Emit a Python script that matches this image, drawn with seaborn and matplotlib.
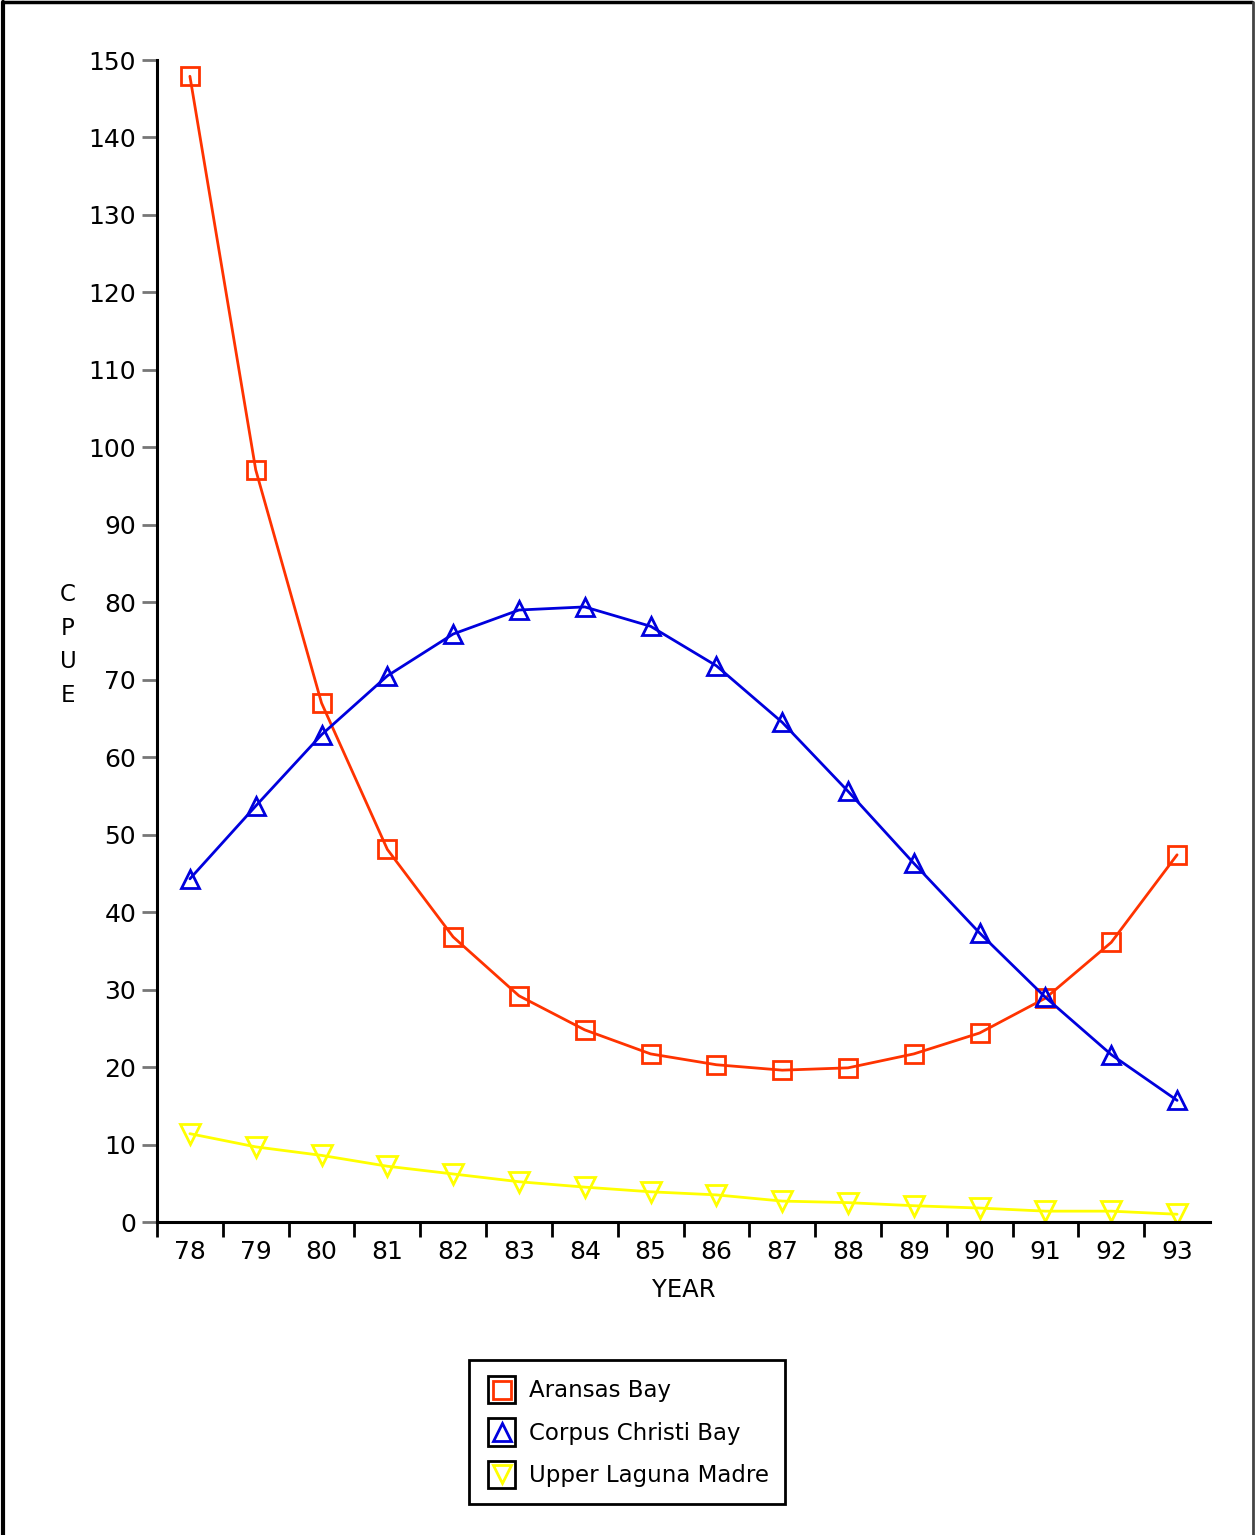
import pandas as pd
import numpy as np
import matplotlib
matplotlib.use("Agg")
import matplotlib.pyplot as plt
import seaborn as sns
from matplotlib.legend_handler import HandlerBase
from matplotlib.patches import Rectangle
from matplotlib.lines import Line2D

years = [78, 79, 80, 81, 82, 83, 84, 85, 86, 87, 88, 89, 90, 91, 92, 93]
aransas = [147.9, 97.1, 67.0, 48.1, 36.8, 29.2, 24.8, 21.7, 20.3, 19.6, 19.9, 21.7, 24.4, 28.9, 36.1, 47.4]
corpus = [44.3, 53.7, 62.9, 70.5, 75.9, 79.0, 79.4, 76.9, 71.8, 64.5, 55.6, 46.3, 37.3, 29.0, 21.6, 15.7]
laguna = [11.4, 9.7, 8.6, 7.2, 6.2, 5.2, 4.5, 3.9, 3.5, 2.7, 2.5, 2.1, 1.8, 1.4, 1.4, 1.0]
names = ["Aransas Bay", "Corpus Christi Bay", "Upper Laguna Madre"]

df = pd.DataFrame({
    "year": years * 3,
    "cpue": aransas + corpus + laguna,
    "bay": [n for n in names for _ in years],
})

colors = {"Aransas Bay": "#ff3300", "Corpus Christi Bay": "#0000dd", "Upper Laguna Madre": "#ffff00"}
markers = {"Aransas Bay": "s", "Corpus Christi Bay": "^", "Upper Laguna Madre": "v"}
sizes = {"Aransas Bay": 13, "Corpus Christi Bay": 13, "Upper Laguna Madre": 14}

sns.set_style("white")
plt.rcParams["font.family"] = ["DejaVu Sans"]
plt.rcParams["text.color"] = "black"
plt.rcParams["axes.labelcolor"] = "black"
plt.rcParams["xtick.color"] = "black"
plt.rcParams["ytick.color"] = "black"

fig = plt.figure(figsize=(12.55, 15.35), dpi=100)
ax = fig.add_axes([157 / 1255, 1 - 1222 / 1535, (1210 - 157) / 1255, (1222 - 60) / 1535])

for name in names:
    sub = df[df["bay"] == name]
    sns.lineplot(data=sub, x="year", y="cpue", ax=ax, color=colors[name],
                 marker=markers[name], markersize=sizes[name], mfc="none",
                 mec=colors[name], mew=2, lw=2, label=name, legend=False)

ax.set_xlim(77.5, 93.5)
ax.set_ylim(0, 150)
ax.set_xticks(years)
ax.set_xticklabels([str(y) for y in years])
ax.set_xticks(np.arange(77.5, 93, 1), minor=True)
ax.tick_params(axis="x", which="major", length=0, pad=13, labelsize=18, labelcolor="black")
ax.tick_params(axis="x", which="minor", length=11, width=2, color="black", bottom=True)
ax.set_yticks(range(0, 151, 10))
ax.tick_params(axis="y", which="major", length=11, width=2, color="#777777", pad=4,
               labelsize=18, labelcolor="black", left=True)

for s in ["top", "right"]:
    ax.spines[s].set_visible(False)
for s in ["left", "bottom"]:
    ax.spines[s].set_color("black")
    ax.spines[s].set_linewidth(2.2)

ax.set_xlabel("YEAR", fontsize=17.5, labelpad=10, color="black")
ax.set_ylabel("")
fig.text(68 / 1255, 1 - 645 / 1535, "C\nP\nU\nE", fontsize=16.5, ha="center", va="center",
         linespacing=1.58, color="black")


class BoxedMarker(HandlerBase):
    def create_artists(self, legend, orig_handle, xdescent, ydescent, width, height, fontsize, trans):
        cx = width / 2 - xdescent
        cy = height / 2 - ydescent
        s = min(width, height)
        rect = Rectangle((cx - s / 2, cy - s / 2), s, s, fc="white", ec="black", lw=2, transform=trans)
        mk = Line2D([cx], [cy], marker=orig_handle.get_marker(), ms=13, mfc="none",
                    mec=orig_handle.get_markeredgecolor(), mew=2, ls="none", transform=trans)
        return [rect, mk]


handles = [Line2D([], [], marker=markers[n], mec=colors[n], ls="none") for n in names]
leg = fig.legend(handles, names, loc="center", bbox_to_anchor=(627 / 1255, 1 - 1432 / 1535),
                 handler_map={Line2D: BoxedMarker()}, fontsize=16.5, frameon=True, fancybox=False,
                 framealpha=1, handlelength=1.45, handleheight=1.45, labelspacing=0.65,
                 handletextpad=0.45, borderpad=0.7)
leg.get_frame().set_edgecolor("black")
leg.get_frame().set_linewidth(2)
for t in leg.get_texts():
    t.set_color("black")

# figure border on left, top, right
fig.add_artist(Line2D([0.002, 0.002], [0, 0.999], color="black", lw=3, transform=fig.transFigure))
fig.add_artist(Line2D([0.002, 0.998], [0.999, 0.999], color="black", lw=2.5, transform=fig.transFigure))
fig.add_artist(Line2D([0.9985, 0.9985], [0, 0.999], color="#444444", lw=2, transform=fig.transFigure))

fig.savefig("out.png", dpi=100)
